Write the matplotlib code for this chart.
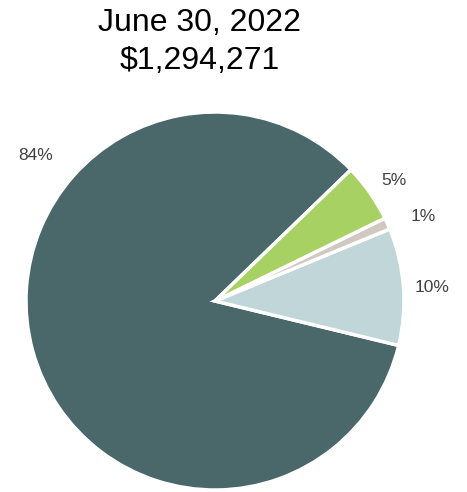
import matplotlib.pyplot as plt
import numpy as np

plt.rcParams['font.family'] = ['Liberation Sans', 'DejaVu Sans']

# slice values (percent), drawn counterclockwise from the start angle
values = [84, 10, 1, 5]
labels = ['84%', '10%', '1%', '5%']
colors = ['#4a686a', '#c0d6d9', '#d1c9c1', '#a8d163']
# label angles (deg) and radii, Excel-style placement
label_angles = [141, 3.5, 22, 34]
label_radii = [1.22, 1.15, 1.19, 1.14]

title_lines = ['June 30, 2022', '$1,294,271']

fig = plt.figure(figsize=(4.67, 4.92), dpi=100)
ax = fig.add_axes([26 / 467, 2 / 492, 378 / 467, 378 / 492])

ax.pie(values, colors=colors, startangle=44, counterclock=True,
       radius=1.0, wedgeprops=dict(edgecolor='white', linewidth=2.5))

for lab, ang, r in zip(labels, label_angles, label_radii):
    t = np.deg2rad(ang)
    ax.text(r * np.cos(t), r * np.sin(t), lab, ha='center', va='center',
            fontsize=12.5, color='#404040', clip_on=False)

ax.set_xlim(-1, 1)
ax.set_ylim(-1, 1)
ax.set_aspect('equal')
ax.axis('off')

fig.text(200 / 467, 1 - 23 / 492, title_lines[0], ha='center', va='center',
         fontsize=23, color='black')
fig.text(200 / 467, 1 - 61 / 492, title_lines[1], ha='center', va='center',
         fontsize=23, color='black')

fig.savefig('out.png', dpi=100)
